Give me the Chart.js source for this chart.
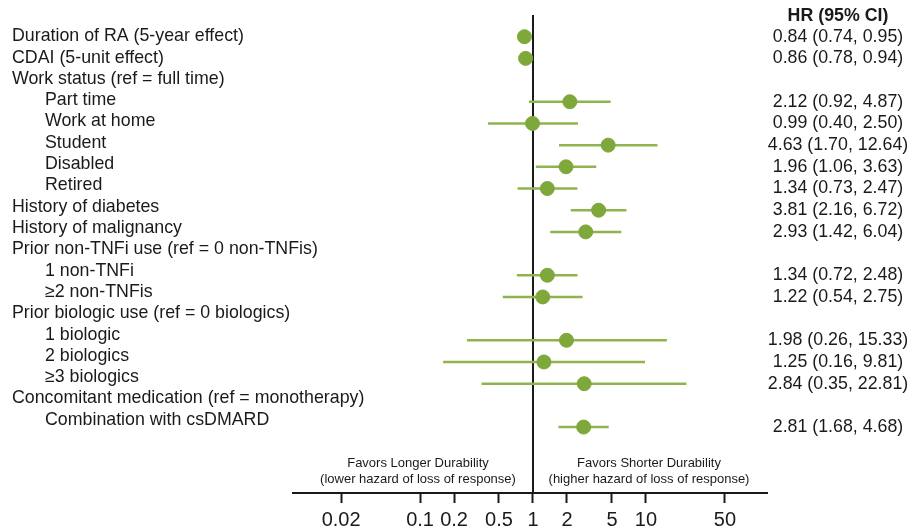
<!DOCTYPE html>
<html>
<head>
<meta charset="utf-8">
<script src="https://cdn.jsdelivr.net/npm/chart.js@4"></script>
<style>
  html, body { margin: 0; background: #fff; }
  #wrap { width: 912px; height: 530px; }
</style>
</head>
<body>
<div id="wrap"><canvas id="forest"></canvas></div>
<script>
// rows of the forest plot, top to bottom
const rowLabels = [
  "Duration of RA (5-year effect)",
  "CDAI (5-unit effect)",
  "Work status (ref = full time)",
  "Part time",
  "Work at home",
  "Student",
  "Disabled",
  "Retired",
  "History of diabetes",
  "History of malignancy",
  "Prior non-TNFi use (ref = 0 non-TNFis)",
  "1 non-TNFi",
  "\u22652 non-TNFis",
  "Prior biologic use (ref = 0 biologics)",
  "1 biologic",
  "2 biologics",
  "\u22653 biologics",
  "Concomitant medication (ref = monotherapy)",
  "Combination with csDMARD"
];
const indented = [0, 0, 0, 1, 1, 1, 1, 1, 0, 0, 0, 1, 1, 0, 1, 1, 1, 0, 1];

// hazard ratios and 95% CI (null = heading row)
const hr     = [0.84, 0.86, null, 2.12, 0.99, 4.63,  1.96, 1.34, 3.81, 2.93, null, 1.34, 1.22, null, 1.98,  1.25, 2.84,  null, 2.81];
const ciLow  = [0.74, 0.78, null, 0.92, 0.40, 1.70,  1.06, 0.73, 2.16, 1.42, null, 0.72, 0.54, null, 0.26,  0.16, 0.35,  null, 1.68];
const ciHigh = [0.95, 0.94, null, 4.87, 2.50, 12.64, 3.63, 2.47, 6.72, 6.04, null, 2.48, 2.75, null, 15.33, 9.81, 22.81, null, 4.68];

const tickValues = [0.02, 0.1, 0.2, 0.5, 1, 2, 5, 10, 50];

const GREEN = "#7ea83a";
const GREEN_LINE = "#8fb44f";
const INK = "#1a1a1a";
const FONT = "'Liberation Sans', Arial, sans-serif";
const TEXT_SIZE = 17.8;

const datasets = [];

// reference line at HR = 1
datasets.push({
  type: "line",
  data: [{ x: 1, y: -1 }, { x: 1, y: 21.43 }],
  borderColor: INK,
  borderWidth: 2,
  pointRadius: 0,
  yAxisID: "y",
  order: 3
});

// confidence interval whiskers
hr.forEach((v, i) => {
  if (v === null) return;
  datasets.push({
    type: "line",
    data: [{ x: ciLow[i], y: i }, { x: ciHigh[i], y: i }],
    borderColor: GREEN_LINE,
    borderWidth: 2.5,
    pointRadius: 0,
    yAxisID: "y2",
    order: 2
  });
});

// point estimates
datasets.push({
  type: "scatter",
  data: hr.map((v, i) => (v === null ? null : { x: v, y: i })).filter(p => p),
  backgroundColor: GREEN,
  borderColor: GREEN,
  pointRadius: 7,
  yAxisID: "y2",
  order: 1
});

const fmt = v => v.toFixed(2);

const textPlugin = {
  id: "forestText",
  afterDraw(chart) {
    const ctx = chart.ctx;
    const x = chart.scales.x;
    const y = chart.scales.y;
    const y2 = chart.scales.y2;
    ctx.save();
    ctx.fillStyle = INK;
    ctx.textBaseline = "middle";

    // row labels on the left
    ctx.font = TEXT_SIZE + "px " + FONT;
    ctx.textAlign = "left";
    rowLabels.forEach((lab, i) => {
      ctx.fillText(lab, indented[i] ? 45 : 12, y.getPixelForValue(i));
    });

    // HR (95% CI) column
    const colX = 838;
    ctx.textAlign = "center";
    ctx.font = "bold " + TEXT_SIZE + "px " + FONT;
    ctx.fillText("HR (95% CI)", colX, y2.getPixelForValue(-0.95));
    ctx.font = TEXT_SIZE + "px " + FONT;
    hr.forEach((v, i) => {
      if (v === null) return;
      ctx.fillText(fmt(v) + " (" + fmt(ciLow[i]) + ", " + fmt(ciHigh[i]) + ")", colX, y2.getPixelForValue(i));
    });

    // direction notes above the axis
    const one = x.getPixelForValue(1);
    const yTop = y.getPixelForValue(20.06);
    const yBot = y.getPixelForValue(20.79);
    ctx.font = "13px " + FONT;
    ctx.fillText("Favors Longer Durability", one - 115, yTop);
    ctx.fillText("(lower hazard of loss of response)", one - 115, yBot);
    ctx.fillText("Favors Shorter Durability", one + 116, yTop);
    ctx.fillText("(higher hazard of loss of response)", one + 116, yBot);
    ctx.restore();
  }
};

new Chart(document.getElementById("forest"), {
  type: "scatter",
  data: { datasets },
  options: {
    responsive: true,
    maintainAspectRatio: false,
    animation: false,
    layout: { padding: { left: 293, right: 145, top: 15, bottom: 0 } },
    plugins: {
      legend: { display: false },
      tooltip: { enabled: false }
    },
    scales: {
      x: {
        type: "logarithmic",
        min: 0.0075,
        max: 118,
        afterBuildTicks: axis => {
          axis.ticks = tickValues.map(v => ({ value: v }));
        },
        afterFit: axis => {
          axis.height = 37;
        },
        ticks: {
          callback: v => String(v),
          autoSkip: false,
          maxRotation: 0,
          color: INK,
          padding: 7,
          font: { family: FONT, size: 20, lineHeight: 1 }
        },
        grid: {
          drawOnChartArea: false,
          tickLength: 10,
          tickWidth: 2,
          tickColor: INK
        },
        border: { color: INK, width: 2 }
      },
      y: {
        type: "linear",
        reverse: true,
        min: -1,
        max: 21.43,
        display: false
      },
      y2: {
        type: "linear",
        reverse: true,
        min: -1,
        max: 21.04,
        display: false
      }
    }
  },
  plugins: [textPlugin]
});
</script>
</body>
</html>
